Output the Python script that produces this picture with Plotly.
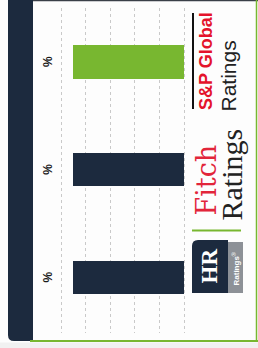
import plotly.graph_objects as go

# ---- data ----
categories = ["HR Ratings", "Fitch Ratings", "S&P Global Ratings"]
values = [4.5, 4.5, 4.5]
value_labels = ["%", "%", "%"]
bar_colors = ["#1c2a3e", "#1c2a3e", "#78b730"]
grid_ticks = [0, 1, 2, 3, 4, 5]

W, H = 258, 348
NAVY = "#1c2a3e"
GREEN = "#78b730"


def X(px):
    return px / W


def Y(py):
    return 1 - py / H


fig = go.Figure()
fig.add_trace(go.Bar(
    orientation="h",
    x=values,
    y=categories,
    width=0.31,
    marker=dict(color=bar_colors, line=dict(width=0)),
    hoverinfo="skip",
))

shapes = []
# left navy band with rounded bottom-left corner
r = 6
band = (f"M {X(8)},{Y(0)} L {X(33)},{Y(0)} L {X(33)},{Y(341)} "
        f"L {X(8 + r)},{Y(341)} Q {X(8)},{Y(341)} {X(8)},{Y(341 - r)} Z")
shapes.append(dict(type="path", xref="paper", yref="paper", path=band,
                   fillcolor=NAVY, line=dict(width=0), layer="above"))
# top thin dark border
shapes.append(dict(type="line", xref="paper", yref="paper", x0=X(33), x1=X(258),
                   y0=Y(0.5), y1=Y(0.5), line=dict(color="#3a3f48", width=1.5)))
# bottom green line
shapes.append(dict(type="line", xref="paper", yref="paper", x0=X(30), x1=X(258),
                   y0=Y(341), y1=Y(341), line=dict(color=GREEN, width=2)))
# right green edge
shapes.append(dict(type="line", xref="paper", yref="paper", x0=X(256.5), x1=X(256.5),
                   y0=Y(0), y1=Y(341), line=dict(color=GREEN, width=1.5)))
# bottom light strip
shapes.append(dict(type="rect", xref="paper", yref="paper", x0=0, x1=1,
                   y0=0, y1=Y(342.5), fillcolor="#f1f1f1", line=dict(width=0)))
# S&P black vertical rule
shapes.append(dict(type="line", xref="paper", yref="paper", x0=X(193), x1=X(193),
                   y0=Y(13), y1=Y(109), line=dict(color="#111111", width=2)))
# green separator
shapes.append(dict(type="line", xref="paper", yref="paper", x0=X(192), x1=X(241),
                   y0=Y(230.5), y1=Y(230.5), line=dict(color=GREEN, width=2)))
# HR logo navy block (rounded top-left)
rr = 6
hr = (f"M {X(192)},{Y(240 + rr)} Q {X(192)},{Y(240)} {X(192 + rr)},{Y(240)} "
      f"L {X(228)},{Y(240)} L {X(228)},{Y(293)} L {X(192)},{Y(293)} Z")
shapes.append(dict(type="path", xref="paper", yref="paper", path=hr,
                   fillcolor=NAVY, line=dict(width=0)))
# HR logo grey block
shapes.append(dict(type="rect", xref="paper", yref="paper", x0=X(228), x1=X(243),
                   y0=Y(242), y1=Y(293), fillcolor="#8d9197", line=dict(width=0)))

annotations = []
for cat, lab in zip(categories, value_labels):
    annotations.append(dict(x=X(48), xref="paper", y=cat, yref="y", text=f"<b>{lab}</b>",
                            showarrow=False, textangle=-90,
                            font=dict(family="Liberation Sans", size=12, color="#1a1a1a"),
                            xanchor="center", yanchor="middle"))

annotations += [
    dict(x=X(205.5), y=Y(61.5), text="<b>S&amp;P Global</b>", textangle=-90,
         font=dict(family="Liberation Sans", size=18, color="#e4132b")),
    dict(x=X(228), y=Y(76.5), text="Ratings", textangle=-90,
         font=dict(family="Liberation Sans", size=21, color="#222222")),
    dict(x=X(206), y=Y(180.5), text="Fitch", textangle=-90,
         font=dict(family="DejaVu Serif", size=27, color="#e2253a")),
    dict(x=X(231), y=Y(174.5), text="Ratings", textangle=-90,
         font=dict(family="Liberation Serif", size=30, color="#222222")),
    dict(x=X(209), y=Y(266.5), text="<b>HR</b>", textangle=-90,
         font=dict(family="Liberation Serif", size=23, color="#ffffff")),
    dict(x=X(235.5), y=Y(269), text="<b>Ratings</b><sup>®</sup>", textangle=-90,
         font=dict(family="Liberation Sans", size=8, color="#ffffff")),
]
for a in annotations[3:]:
    a.update(xref="paper", yref="paper", showarrow=False,
             xanchor="center", yanchor="middle")

fig.update_layout(
    width=W, height=H,
    margin=dict(l=0, r=0, t=0, b=0),
    paper_bgcolor="#fdfdfd",
    plot_bgcolor="rgba(0,0,0,0)",
    showlegend=False,
    bargap=0,
    shapes=shapes,
    annotations=annotations,
    xaxis=dict(domain=[0, 1], range=[184 / 24.6, (184 - 258) / 24.6],
               tickvals=grid_ticks, showticklabels=False, showgrid=True,
               gridcolor="#c9c9c9", griddash="dot", gridwidth=1,
               zeroline=False, showline=False, fixedrange=True),
    yaxis=dict(domain=[Y(333), Y(8)], type="category",
               categoryorder="array", categoryarray=categories,
               range=[-0.514, 2.5], showticklabels=False, showgrid=False,
               zeroline=False, showline=False, fixedrange=True),
)

fig.write_html(
    "out.html",
    config={"displayModeBar": False},
    post_script="document.body.style.margin='0';document.body.style.overflow='hidden';",
)
